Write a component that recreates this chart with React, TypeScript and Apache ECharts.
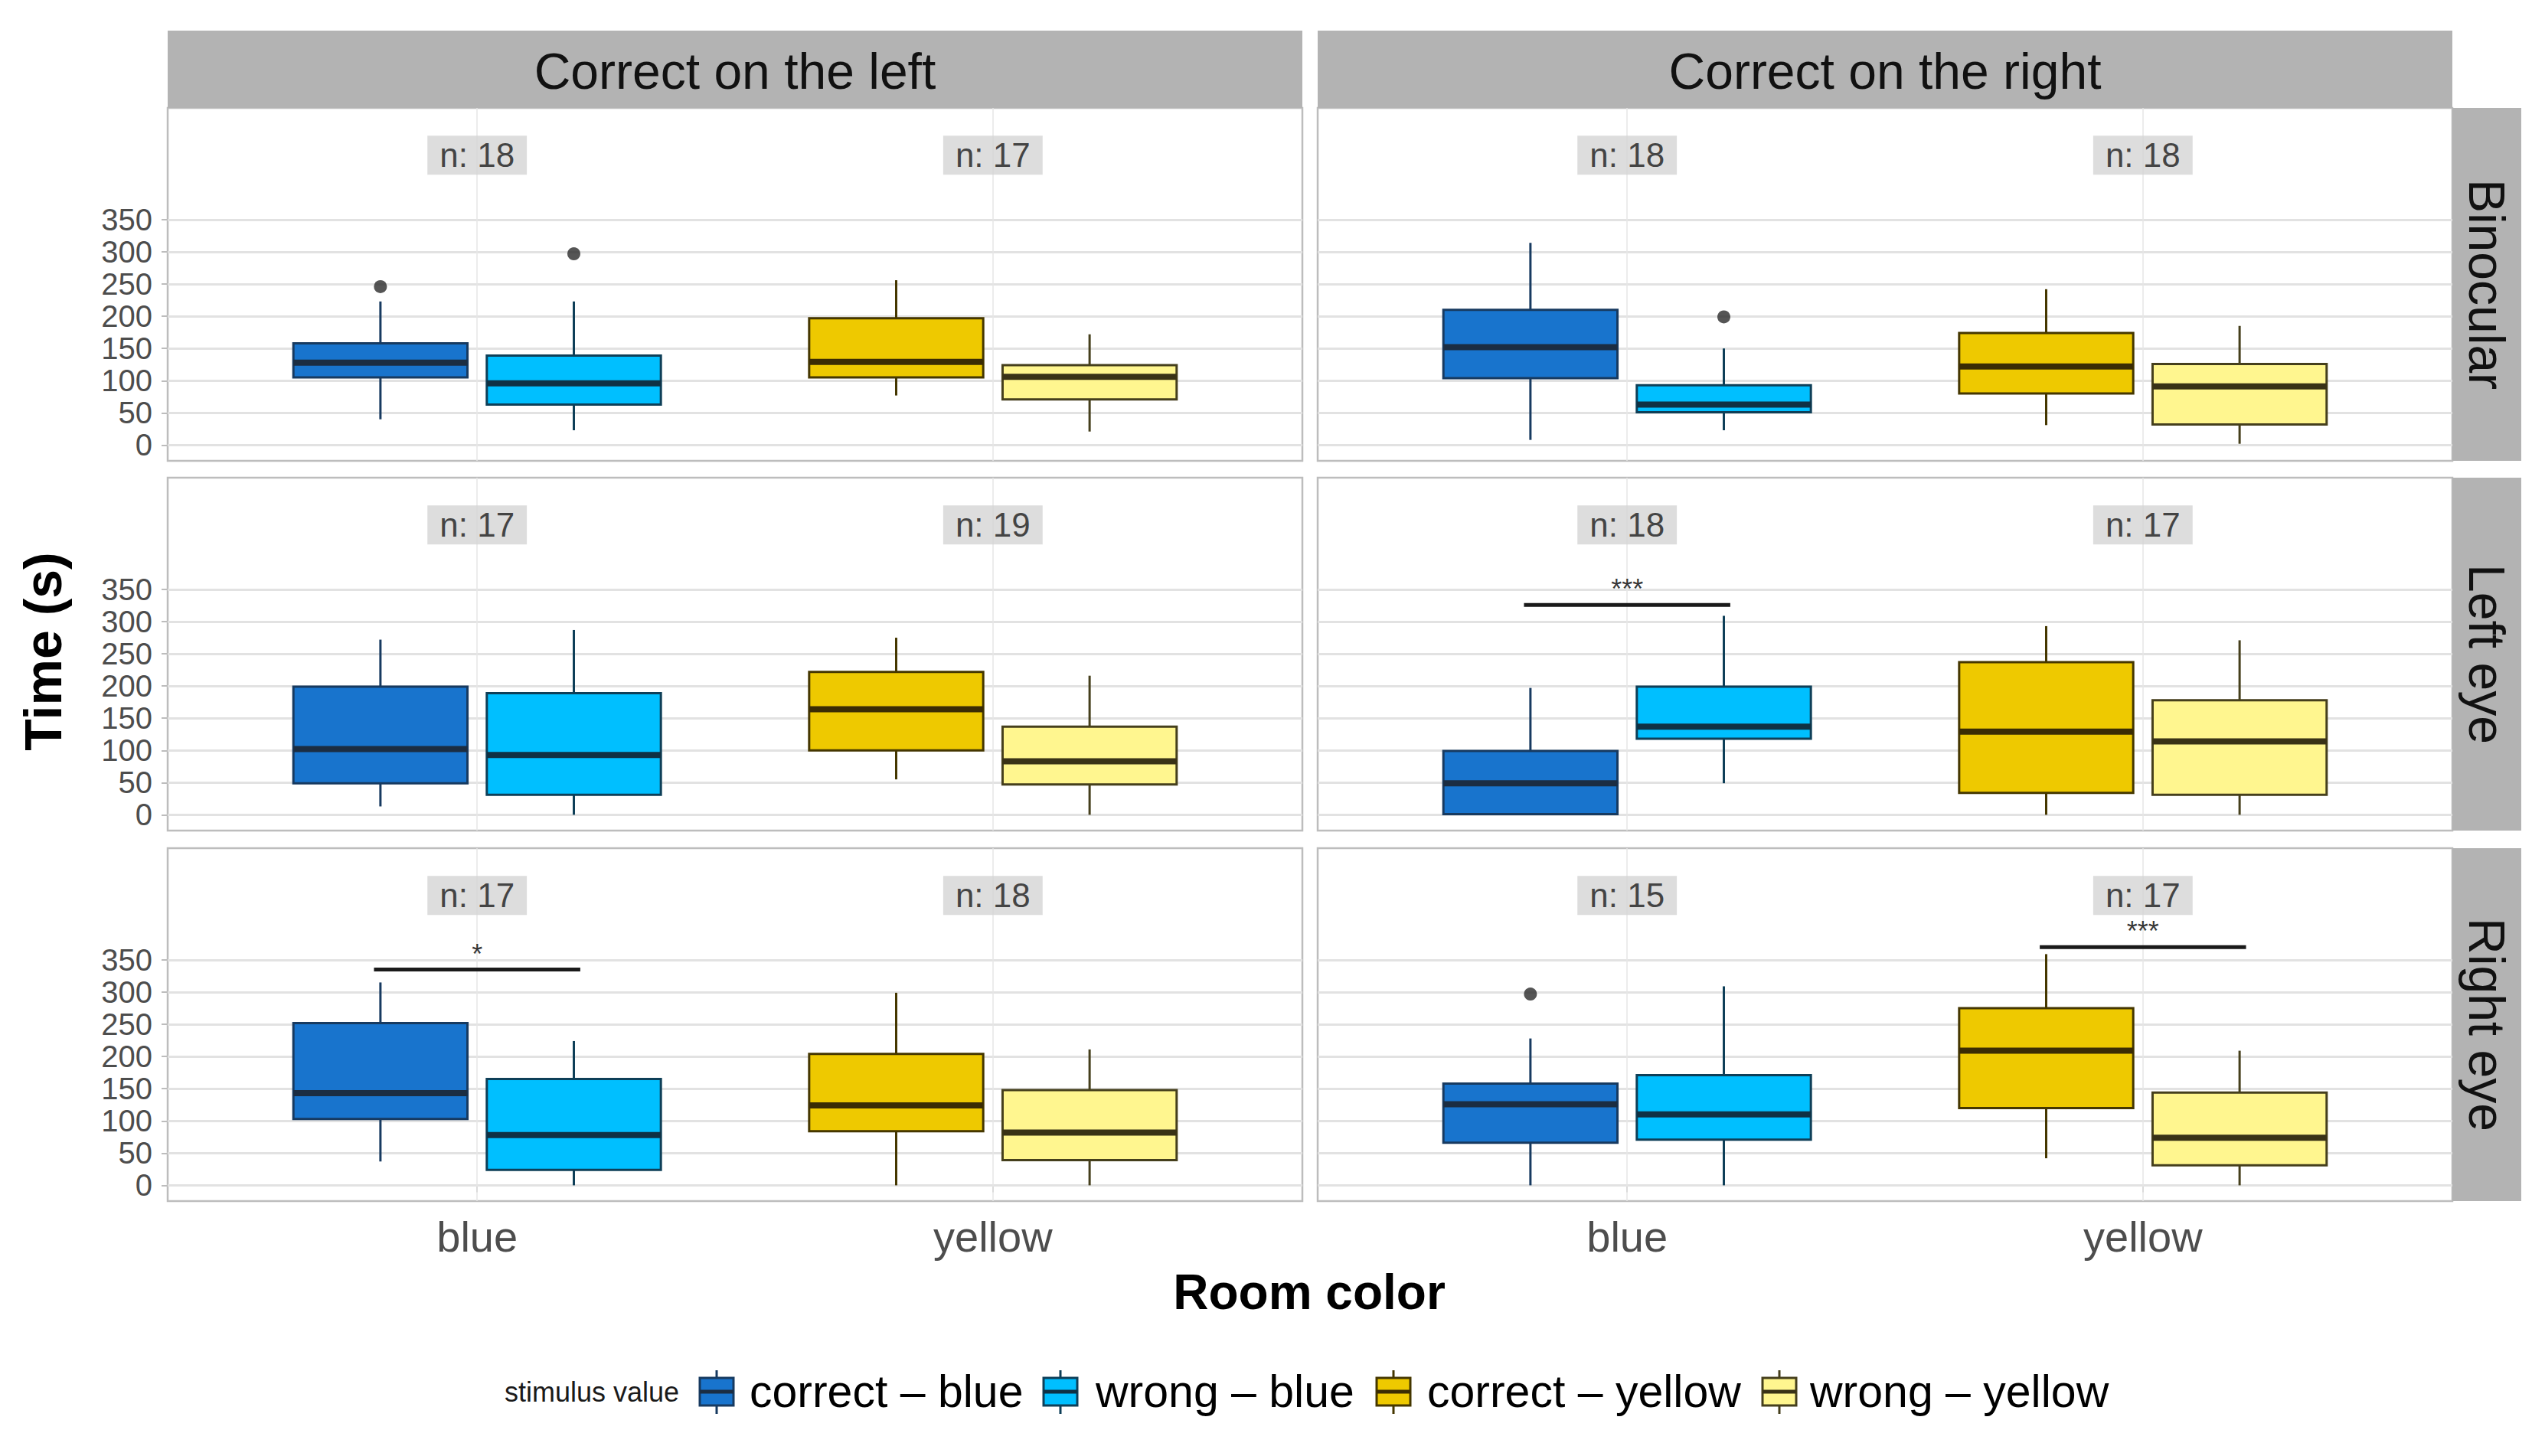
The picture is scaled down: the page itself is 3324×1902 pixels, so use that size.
import React, { useEffect, useRef } from 'react';
import * as echarts from 'echarts';

// ---------- data ----------
const colFacets = ['Correct on the left', 'Correct on the right'];
const rowFacets = ['Binocular', 'Left eye', 'Right eye'];
const roomColors = ['blue', 'yellow'];
const stimulusGroups = ['correct – blue', 'wrong – blue', 'correct – yellow', 'wrong – yellow'];
const groupRoom = [0, 0, 1, 1]; // index into roomColors
const groupSide = [-1, 1, -1, 1]; // dodge side
const yTicks = [0, 50, 100, 150, 200, 250, 300, 350];

// box statistics [min, q1, median, q3, max] for correct-blue, wrong-blue, correct-yellow, wrong-yellow
const binocularLeft = [[40, 105, 128, 158, 223], [23, 63, 96, 139, 223], [77, 105, 129, 197, 256], [21, 71, 106, 124, 172]];
const binocularRight = [[8, 104, 152, 210, 314], [23, 51, 63, 93, 150], [31, 80, 122, 174, 242], [2, 32, 91, 126, 185]];
const leftEyeLeft = [[13, 49, 102, 199, 272], [0, 31, 93, 189, 287], [55, 100, 164, 222, 275], [0, 47, 83, 137, 216]];
const leftEyeRight = [[1, 1, 49, 99, 197], [49, 118, 137, 199, 309], [0, 34, 129, 237, 293], [0, 31, 114, 178, 271]];
const rightEyeLeft = [[37, 103, 143, 252, 315], [0, 24, 78, 165, 224], [0, 84, 124, 204, 299], [0, 39, 82, 148, 211]];
const rightEyeRight = [[0, 66, 126, 158, 228], [0, 71, 110, 171, 309], [42, 120, 209, 275, 359], [0, 31, 74, 144, 209]];
const panelStats = [
  [binocularLeft, binocularRight],
  [leftEyeLeft, leftEyeRight],
  [rightEyeLeft, rightEyeRight],
];

// outliers: [row, col, group, value]
const outliers = [
  [0, 0, 0, 246],
  [0, 0, 1, 297],
  [0, 1, 1, 199],
  [2, 1, 0, 297],
];

// sample sizes per panel: [blue room, yellow room]
const nBinocular = [[18, 17], [18, 18]];
const nLeftEye = [[17, 19], [18, 17]];
const nRightEye = [[17, 18], [15, 17]];
const nCounts = [nBinocular, nLeftEye, nRightEye];
const nLabelY = 450;

// significance bars: [row, col, room, y, stars]
const significance: [number, number, number, number, string][] = [
  [1, 1, 0, 326, '***'],
  [2, 0, 0, 335, '*'],
  [2, 1, 1, 370, '***'],
];

// ---------- styling ----------
const FONT = "'Liberation Sans', Arial, Helvetica, sans-serif";
const fills = ['#1874CD', '#00BFFF', '#EEC900', '#FFF68F'];
const strokes = ['#173a60', '#0e3f58', '#453700', '#453f1c'];
const medians = ['#1b2d42', '#0f3144', '#3a2c04', '#393216'];
const dodge = 0.1875;
const boxHalf = 0.16875;
const sigHalf = 0.2;

const colLeft = [219, 1721];
const colWidth = 1482;
const rowTop = [141, 624, 1108];
const rowHeight = 461;
const stripTop = 40;
const stripRightX = 3203;
const stripW = 90;

function buildOption() {
  const grids: any[] = [];
  const xAxes: any[] = [];
  const yAxes: any[] = [];
  const series: any[] = [];

  for (let r = 0; r < 3; r++) {
    for (let c = 0; c < 2; c++) {
      const p = r * 2 + c;
      grids.push({
        left: colLeft[c], top: rowTop[r], width: colWidth, height: rowHeight,
        show: true, borderColor: '#bdbdbd', borderWidth: 2.5, backgroundColor: '#ffffff',
        containLabel: false, outerBoundsMode: 'none',
      });
      xAxes.push({
        type: 'value', gridIndex: p, min: 0.4, max: 2.6,
        splitLine: { show: false }, axisLine: { show: false },
        axisTick: { show: r === 2, customValues: [1, 2], length: 9, lineStyle: { color: '#bdbdbd', width: 2 } },
        axisLabel: {
          show: r === 2, customValues: [1, 2], fontSize: 56, color: '#4d4d4d', margin: 18, fontFamily: FONT,
          formatter: (v: number) => roomColors[Math.round(v) - 1] || '',
        },
      });
      yAxes.push({
        type: 'value', gridIndex: p, min: -24.5, max: 523.5,
        splitLine: { show: false }, axisLine: { show: false },
        axisTick: { show: c === 0, customValues: yTicks, length: 8, lineStyle: { color: '#bdbdbd', width: 2 } },
        axisLabel: { show: c === 0, customValues: yTicks, fontSize: 40, color: '#4d4d4d', margin: 20, fontFamily: FONT },
      });

      const n = nCounts[r][c];
      series.push({
        type: 'scatter', xAxisIndex: p, yAxisIndex: p, z: 2, symbol: 'rect', symbolSize: 1,
        itemStyle: { color: 'rgba(0,0,0,0)' }, silent: true,
        data: roomColors.map((_, i) => ({ value: [i + 1, nLabelY], label: { formatter: 'n: ' + n[i] } })),
        label: {
          show: true, position: 'inside', fontSize: 44, color: '#1a1a1a', backgroundColor: '#d4d4d4',
          padding: [3, 16, 3, 16], lineHeight: 45, fontFamily: FONT,
        },
        markLine: {
          silent: true, z: 1, symbol: ['none', 'none'], label: { show: false },
          emphasis: { disabled: true },
          data: [
            ...yTicks.map((v) => ({ yAxis: v, lineStyle: { color: '#e2e2e2', width: 3, type: 'solid' } })),
            ...[1, 2].map((v) => ({ xAxis: v, lineStyle: { color: '#e6e6e6', width: 1.5, type: 'solid' } })),
          ],
        },
      });

      const stats = panelStats[r][c];
      series.push({
        type: 'custom', xAxisIndex: p, yAxisIndex: p, z: 10, silent: true,
        encode: { x: 0, y: [1, 2, 3, 4, 5] },
        data: stats.map((s, g) => [groupRoom[g] + 1 + groupSide[g] * dodge, ...s, g]),
        renderItem: (params: any, api: any) => {
          const x = api.value(0);
          const g = api.value(6);
          const pMin = api.coord([x, api.value(1)]);
          const pQ1 = api.coord([x, api.value(2)]);
          const pMed = api.coord([x, api.value(3)]);
          const pQ3 = api.coord([x, api.value(4)]);
          const pMax = api.coord([x, api.value(5)]);
          const hw = api.size([boxHalf, 0])[0];
          const stroke = strokes[g];
          return {
            type: 'group',
            children: [
              { type: 'line', shape: { x1: pMax[0], y1: pMax[1], x2: pQ3[0], y2: pQ3[1] }, style: { stroke, lineWidth: 3 } },
              { type: 'line', shape: { x1: pQ1[0], y1: pQ1[1], x2: pMin[0], y2: pMin[1] }, style: { stroke, lineWidth: 3 } },
              {
                type: 'rect',
                shape: { x: pQ3[0] - hw, y: pQ3[1], width: hw * 2, height: pQ1[1] - pQ3[1] },
                style: { fill: fills[g], stroke, lineWidth: 3 },
              },
              {
                type: 'line',
                shape: { x1: pMed[0] - hw, y1: pMed[1], x2: pMed[0] + hw, y2: pMed[1] },
                style: { stroke: medians[g], lineWidth: 8 },
              },
            ],
          };
        },
      });

      const outs = outliers.filter((o) => o[0] === r && o[1] === c);
      if (outs.length) {
        series.push({
          type: 'scatter', xAxisIndex: p, yAxisIndex: p, z: 11, silent: true,
          symbol: 'circle', symbolSize: 17, itemStyle: { color: '#2b2b2b' },
          data: outs.map((o) => [groupRoom[o[2]] + 1 + groupSide[o[2]] * dodge, o[3]]),
        });
      }

      significance.filter((s) => s[0] === r && s[1] === c).forEach((s) => {
        const cx = s[2] + 1;
        series.push({
          type: 'line', xAxisIndex: p, yAxisIndex: p, z: 11, silent: true, symbol: 'none',
          lineStyle: { color: '#1a1a1a', width: 5 },
          data: [[cx - sigHalf, s[3]], [cx + sigHalf, s[3]]],
        });
        series.push({
          type: 'scatter', xAxisIndex: p, yAxisIndex: p, z: 11, silent: true, symbol: 'rect', symbolSize: 1,
          itemStyle: { color: 'rgba(0,0,0,0)' },
          data: [{ value: [cx, s[3] + 24], label: { formatter: s[4] } }],
          label: { show: true, position: 'inside', fontSize: 36, color: '#000000', fontFamily: FONT },
        });
      });
    }
  }

  const graphic: any[] = [];
  // column strips
  colFacets.forEach((t, c) => {
    graphic.push({ type: 'rect', shape: { x: colLeft[c], y: stripTop, width: colWidth, height: rowTop[0] - stripTop }, style: { fill: '#b3b3b3' }, silent: true });
    graphic.push({
      type: 'text', x: colLeft[c] + colWidth / 2, y: (stripTop + rowTop[0]) / 2 + 2, silent: true,
      style: { text: t, fontSize: 66, fontFamily: FONT, fill: '#111111', align: 'center', verticalAlign: 'middle' },
    });
  });
  // row strips
  rowFacets.forEach((t, r) => {
    graphic.push({ type: 'rect', shape: { x: stripRightX, y: rowTop[r], width: stripW, height: rowHeight }, style: { fill: '#b3b3b3' }, silent: true });
    graphic.push({
      type: 'text', x: stripRightX + stripW / 2, y: rowTop[r] + rowHeight / 2, rotation: -Math.PI / 2, silent: true,
      style: { text: t, fontSize: 66, fontFamily: FONT, fill: '#111111', align: 'center', verticalAlign: 'middle' },
    });
  });
  // axis titles
  graphic.push({
    type: 'text', x: 56, y: 851, rotation: Math.PI / 2, silent: true,
    style: { text: 'Time (s)', fontSize: 68, fontWeight: 'bold', fontFamily: FONT, fill: '#000000', align: 'center', verticalAlign: 'middle' },
  });
  graphic.push({
    type: 'text', x: 1710, y: 1688, silent: true,
    style: { text: 'Room color', fontSize: 64, fontWeight: 'bold', fontFamily: FONT, fill: '#000000', align: 'center', verticalAlign: 'middle' },
  });
  // legend
  const legY = 1818;
  graphic.push({
    type: 'text', x: 659, y: legY, silent: true,
    style: { text: 'stimulus value', fontSize: 36, fontFamily: FONT, fill: '#1a1a1a', align: 'left', verticalAlign: 'middle' },
  });
  const keyX = [914, 1363, 1798, 2302];
  const textX = [979, 1431, 1864, 2364];
  stimulusGroups.forEach((name, g) => {
    const kx = keyX[g];
    graphic.push({ type: 'line', shape: { x1: kx + 22, y1: legY - 28, x2: kx + 22, y2: legY + 29 }, style: { stroke: strokes[g], lineWidth: 3 }, silent: true });
    graphic.push({ type: 'rect', shape: { x: kx, y: legY - 18, width: 44, height: 36 }, style: { fill: fills[g], stroke: strokes[g], lineWidth: 3 }, silent: true });
    graphic.push({ type: 'line', shape: { x1: kx, y1: legY, x2: kx + 44, y2: legY }, style: { stroke: medians[g], lineWidth: 5 }, silent: true });
    graphic.push({
      type: 'text', x: textX[g], y: legY, silent: true,
      style: { text: name, fontSize: 59, fontFamily: FONT, fill: '#000000', align: 'left', verticalAlign: 'middle' },
    });
  });

  return {
    animation: false,
    backgroundColor: '#ffffff',
    textStyle: { fontFamily: FONT },
    grid: grids,
    xAxis: xAxes,
    yAxis: yAxes,
    series,
    graphic,
  };
}

export default function App() {
  const ref = useRef<HTMLDivElement>(null);
  useEffect(() => {
    if (!ref.current) return;
    const chart = echarts.init(ref.current, undefined, { renderer: 'svg' });
    chart.setOption(buildOption() as any);
    return () => chart.dispose();
  }, []);
  return <div ref={ref} style={{ position: 'fixed', left: 0, top: 0, width: 3324, height: 1902, background: '#fff' }} />;
}
